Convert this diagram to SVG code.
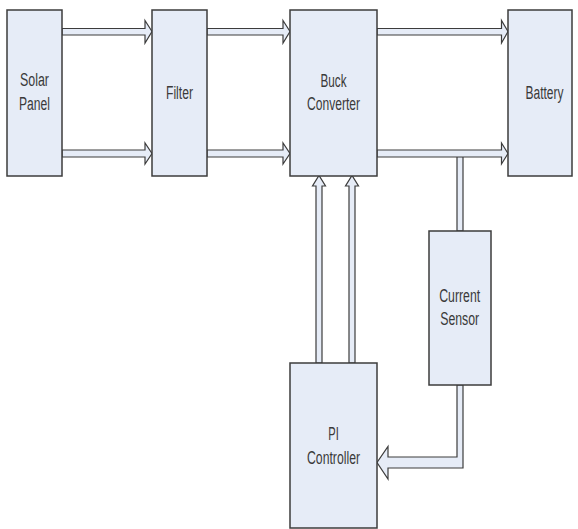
<svg xmlns="http://www.w3.org/2000/svg" width="578" height="529" viewBox="0 0 578 529">
<style>
.box{fill:#e6ecf7;stroke:#3c3c3c;stroke-width:1.5}
.arr{fill:#e6ecf7;stroke:#3c3c3c;stroke-width:1.2;stroke-linejoin:miter}
.t{font-family:"Liberation Sans Narrow","Liberation Sans",Arial,sans-serif;font-size:18px;fill:#3a3a3a;text-anchor:middle}
</style>
<rect width="578" height="529" fill="#ffffff"/>
<g id="connectors">
<polygon class="arr" points="62,28.5 145,28.5 145,20.5 152,31.5 145,43 145,35 62,35"/>
<polygon class="arr" points="62,150 145,150 145,143 152,153.5 145,164 145,157 62,157"/>
<polygon class="arr" points="207,28.5 283,28.5 283,20.5 290,31.5 283,43 283,35 207,35"/>
<polygon class="arr" points="207,150 283,150 283,143 290,153.5 283,164 283,157 207,157"/>
<polygon class="arr" points="377,28.5 501.5,28.5 501.5,20.5 508,31.5 501.5,43 501.5,35 377,35"/>
<rect class="arr" x="457" y="156.5" width="6" height="74.5"/>
<polygon class="arr" points="377,150 501.5,150 501.5,143 508,153.5 501.5,164 501.5,157 377,157"/>
<polygon class="arr" points="316,363 316,186 312.5,186 319,175.5 325.5,186 322,186 322,363"/>
<polygon class="arr" points="349,363 349,186 345.5,186 352,175.5 358.5,186 355,186 355,363"/>
<polygon class="arr" points="457,385 463,385 463,468 388,468 388,479 377,462.5 388,446.5 388,457 457,457"/>
</g>
<g id="solar-panel">
<rect class="box" x="7" y="10" width="55" height="166"/>
<text class="t" x="34.5" y="86" textLength="29" lengthAdjust="spacingAndGlyphs">Solar</text>
<text class="t" x="34.5" y="110" textLength="31" lengthAdjust="spacingAndGlyphs">Panel</text>
</g>
<g id="filter">
<rect class="box" x="152" y="10" width="55" height="166"/>
<text class="t" x="179.5" y="98.5" textLength="27" lengthAdjust="spacingAndGlyphs">Filter</text>
</g>
<g id="buck-converter">
<rect class="box" x="290" y="10" width="87" height="166"/>
<text class="t" x="333.5" y="87" textLength="26" lengthAdjust="spacingAndGlyphs">Buck</text>
<text class="t" x="333.5" y="110" textLength="53" lengthAdjust="spacingAndGlyphs">Converter</text>
</g>
<g id="battery">
<rect class="box" x="508" y="10" width="64" height="166"/>
<text class="t" x="544.5" y="98.5" textLength="38" lengthAdjust="spacingAndGlyphs">Battery</text>
</g>
<g id="current-sensor">
<rect class="box" x="429" y="231" width="62" height="154"/>
<text class="t" x="459.7" y="301.5" textLength="41" lengthAdjust="spacingAndGlyphs">Current</text>
<text class="t" x="459.7" y="325" textLength="39" lengthAdjust="spacingAndGlyphs">Sensor</text>
</g>
<g id="pi-controller">
<rect class="box" x="290" y="363" width="87" height="165"/>
<text class="t" x="333.5" y="440" textLength="10.5" lengthAdjust="spacingAndGlyphs">PI</text>
<text class="t" x="333.5" y="463.5" textLength="53" lengthAdjust="spacingAndGlyphs">Controller</text>
</g>
</svg>
